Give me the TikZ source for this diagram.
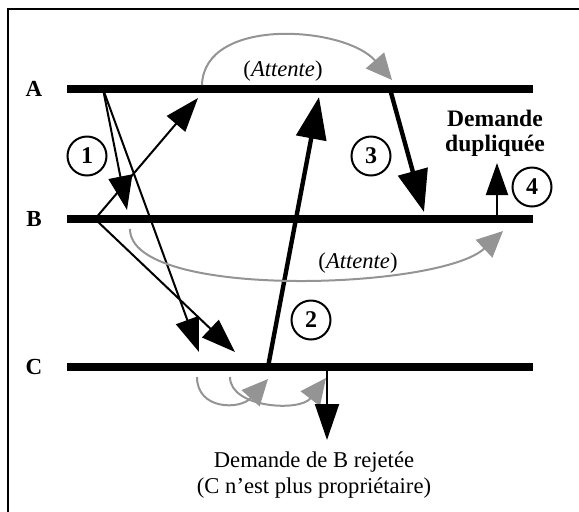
\documentclass[tikz,border=0pt]{standalone}
\usepackage{fontspec}
\setmainfont{Liberation Serif}
\usetikzlibrary{arrows.meta}

\begin{document}
\begin{tikzpicture}[x=0.5pt, y=-0.5pt,
  every node/.style={font=\fontsize{11.3}{13}\selectfont},
  ligne/.style={line width=4.3pt},
  fleche/.style={line width=1pt, -{Triangle[length=17pt,width=12pt]}},
  grosse/.style={line width=2.2pt, -{Triangle[length=21pt,width=15pt]}},
  attente/.style={line width=1pt, black!42, -{Triangle[length=13pt,width=12pt]}},
  num/.style={draw, circle, line width=1pt, minimum size=19.5pt, inner sep=0pt, font=\fontsize{12}{12}\selectfont\bfseries},
  site/.style={font=\fontsize{11.5}{13}\selectfont\bfseries}]
	\useasboundingbox (0,0) rectangle (579,511);
	% cadre
	\begin{scope}
		\clip (0,0) rectangle (579,511);
		\draw[line width=1.2pt] (8,9) rectangle (620,540);
	\end{scope}
	% les trois sites
	\node[site] (sA)at(34,89) {A};
	\node[site] (sB)at(34,219) {B};
	\node[site] (sC)at(34,367) {C};
	\coordinate (A0)at(67,89);   \coordinate (A1)at(533,89);
	\coordinate (B0)at(67,219);  \coordinate (B1)at(533,219);
	\coordinate (C0)at(67,367);  \coordinate (C1)at(533,367);
	\draw[ligne] (A0) -- (A1);
	\draw[ligne] (B0) -- (B1);
	\draw[ligne] (C0) -- (C1);
	% etape 1 : demandes de A et de B
	\coordinate (a1)at(103,89);
	\coordinate (b1)at(95,219);
	\coordinate (t11)at(127,210);
	\coordinate (t12)at(199,352);
	\coordinate (t13)at(198,98);
	\coordinate (t14)at(235,352);
	\draw[fleche] (a1) -- (t11);
	\draw[fleche] (a1) -- (t12);
	\draw[fleche] (b1) -- (t13);
	\draw[fleche] (b1) -- (t14);
	\node[num] (n1)at(87,156) {1};
	% etape 2 : C cede a A
	\coordinate (c2)at(268,367);
	\coordinate (t2)at(319,97);
	\draw[grosse] (c2) -- (t2);
	\node[num] (n2)at(311,320) {2};
	% etape 3 : A repond a B
	\coordinate (a3)at(390,89);
	\coordinate (t3)at(424,212);
	\draw[grosse] (a3) -- (t3);
	\node[num] (n3)at(371,156) {3};
	% etape 4
	\coordinate (b4)at(497,219);
	\coordinate (t4)at(497,163);
	\draw[line width=1pt, -{Triangle[length=16pt,width=11pt]}] (b4) -- (t4);
	\node[font=\fontsize{11.8}{12.5}\selectfont\bfseries, align=center] (dup)at(495,133) {Demande\\dupliquée};
	\node[num] (n4)at(532,187) {4};
	% attentes
	\coordinate (gA0)at(202,85);  \coordinate (gA1)at(392,80);
	\draw[attente] (gA0) .. controls (204,16) and (345,26) .. (gA1);
	\node (attA)at(283,71) {(\textit{Attente})};
	\coordinate (gB0)at(130,229); \coordinate (gB1)at(503,231);
	\draw[attente] (gB0) .. controls (130,300) and (440,290) .. (gB1);
	\node (attB)at(358,263) {(\textit{Attente})};
	\coordinate (gC0)at(197,377); \coordinate (gC1)at(268,379);
	\coordinate (gC2)at(230,377); \coordinate (gC3)at(326,378);
	\draw[attente] (gC0) .. controls (197,410) and (240,410) .. (gC1);
	\draw[attente] (gC2) .. controls (230,408) and (300,412) .. (gC3);
	% rejet chez C
	\coordinate (c5)at(327,371);
	\coordinate (t5)at(327,440);
	\draw[line width=1pt, -{Triangle[length=18pt,width=12pt]}] (c5) -- (t5);
	\node[align=center] (rejet)at(314,475) {Demande de B rejetée\\(C n’est plus propriétaire)};
\end{tikzpicture}
\end{document}
